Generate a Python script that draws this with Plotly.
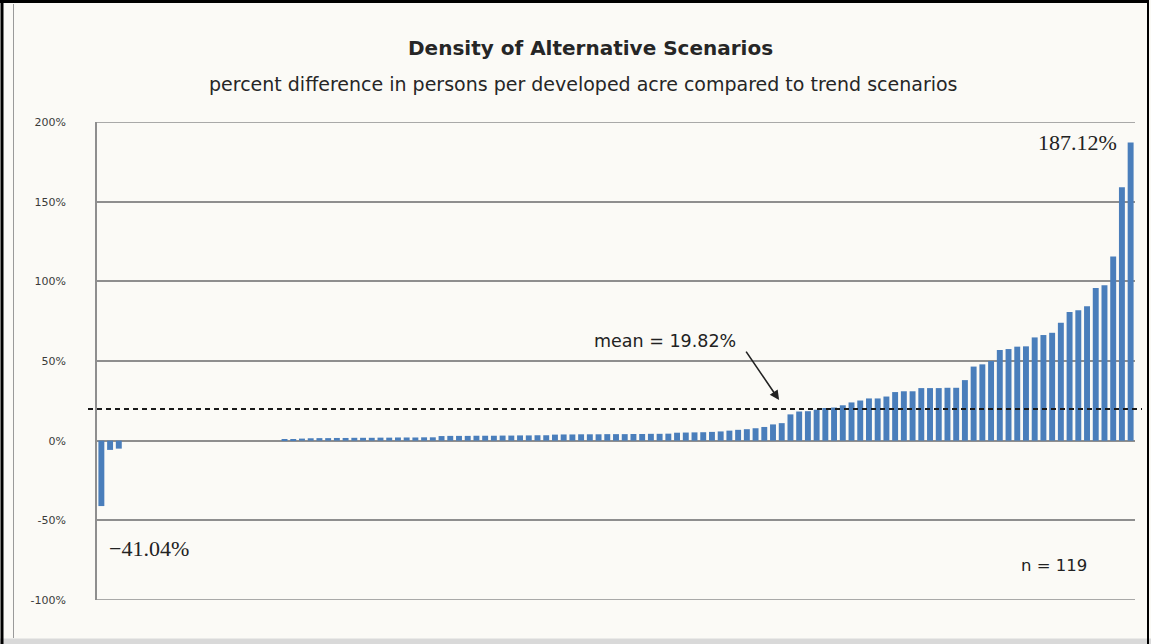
import plotly.graph_objects as go

# ---------------- data ----------------
values = [
    -41.04, -5.8, -5.0,
    0, 0, 0, 0, 0, 0, 0, 0, 0, 0, 0, 0, 0, 0, 0, 0, 0, 0,
    0.6, 1.0, 1.3, 1.5, 1.6, 1.6, 1.7, 1.7, 1.8, 1.8, 1.8, 1.9, 1.9, 2.0, 2.0, 2.0, 2.1, 2.1,
    2.9, 3.0, 3.0, 3.0, 3.1, 3.1, 3.1, 3.2, 3.2, 3.3, 3.3, 3.4, 3.4,
    3.8, 3.9, 3.9, 4.0, 4.0, 4.0, 4.1, 4.1, 4.1, 4.2, 4.2, 4.3, 4.3, 4.4,
    5.0, 5.1, 5.2, 5.3, 5.5, 5.8,
    6.3, 6.8, 7.2, 7.8, 8.6, 10.2, 11.0,
    16.5, 18.3, 18.5, 19.4, 20.5, 20.8, 22.2, 24.0, 25.2, 26.5, 26.5, 27.7,
    30.5, 31.0, 31.0, 33.0, 33.0, 33.0, 33.2, 33.2, 38.0,
    46.5, 47.9, 50.0, 56.9, 57.5, 59.0, 59.2, 64.8, 66.3, 67.7, 74.0,
    80.8, 81.9, 84.4, 95.8, 97.5, 115.6, 159.0, 187.12,
]
categories = list(range(1, len(values) + 1))
mean_value = 19.82
tick_vals = [-100, -50, 0, 50, 100, 150, 200]
tick_text = ["-100%", "-50%", "0%", "50%", "100%", "150%", "200%"]
title_text = "Density of Alternative Scenarios"
subtitle_text = "percent difference in persons per developed acre compared to trend scenarios"
max_label = "187.12%"
min_label = "\u221241.04%"
mean_label = "mean = 19.82%"
n_label = "n = 119"

# ---------------- layout geometry ----------------
W, H = 1151, 644
L, R, T, B = 97, 16, 122, 44
PW, PH = W - L - R, H - T - B


def px(x):
    return (x - L) / PW


def py(y):
    return (H - B - y) / PH


BG = "#fbfaf6"
GRID = "#8e8e8e"
BAR = "#4a7ebb"

fig = go.Figure()
fig.add_trace(go.Bar(
    x=categories, y=values,
    marker=dict(color=BAR, line=dict(width=0)),
    width=0.68,
    hoverinfo="y",
))

shapes = [
    # top / bottom gridlines at the range edges
    dict(type="line", xref="paper", yref="y", x0=0, x1=1, y0=tick_vals[-1], y1=tick_vals[-1],
         line=dict(color=GRID, width=1.6), layer="below"),
    dict(type="line", xref="paper", yref="y", x0=0, x1=1, y0=tick_vals[0], y1=tick_vals[0],
         line=dict(color=GRID, width=1.6), layer="below"),
    # mean dashed line (extends slightly beyond plot)
    dict(type="line", xref="paper", yref="y", x0=px(88), x1=px(1142),
         y0=mean_value, y1=mean_value,
         line=dict(color="#1a1a1a", width=2, dash="5px,4px"), layer="above"),
    # bottom grey band
    dict(type="rect", xref="paper", yref="paper", x0=px(0), x1=px(W),
         y0=py(H), y1=py(638.5), fillcolor="#d9d9d9", line=dict(width=0), layer="below"),
    # outer black frame: left, top, right
    dict(type="line", xref="paper", yref="paper", x0=px(2), x1=px(2),
         y0=py(H), y1=py(0), line=dict(color="#000000", width=3), layer="below"),
    dict(type="line", xref="paper", yref="paper", x0=px(0), x1=px(1149),
         y0=py(1.5), y1=py(1.5), line=dict(color="#000000", width=3), layer="below"),
    dict(type="line", xref="paper", yref="paper", x0=px(1148), x1=px(1148),
         y0=py(H), y1=py(0), line=dict(color="#000000", width=2), layer="below"),
    # inner chart-area border (left)
    dict(type="line", xref="paper", yref="paper", x0=px(13.5), x1=px(13.5),
         y0=py(638), y1=py(4), line=dict(color="#9a9a9a", width=1), layer="below"),
]

annotations = [
    dict(xref="paper", yref="paper", x=px(590), y=py(48), text="<b>" + title_text + "</b>",
         showarrow=False, xanchor="center", yanchor="middle",
         font=dict(family="DejaVu Sans", size=20, color="#262626")),
    dict(xref="paper", yref="paper", x=px(583), y=py(84), text=subtitle_text,
         showarrow=False, xanchor="center", yanchor="middle",
         font=dict(family="DejaVu Sans", size=19, color="#262626")),
    dict(x=categories[-1], y=values[-1], text=max_label, showarrow=False,
         xanchor="right", yanchor="middle", xshift=-12,
         font=dict(family="Liberation Serif", size=22, color="#222222")),
    dict(x=categories[0], y=values[0], text=min_label, showarrow=False,
         xanchor="left", yanchor="middle", xshift=6, yshift=-42,
         font=dict(family="Liberation Serif", size=22, color="#222222")),
    # mean arrow
    dict(x=78.7, y=mean_value, yshift=9, text="", showarrow=True,
         ax=-34, ay=-50, arrowhead=2, arrowsize=1.2, arrowwidth=1.6,
         arrowcolor="#222222"),
    dict(x=78.7, y=mean_value, xshift=-41, yshift=68, text=mean_label, showarrow=False,
         xanchor="right", yanchor="middle",
         font=dict(family="DejaVu Sans", size=17.5, color="#222222")),
    dict(xref="paper", yref="y", x=px(1054), y=-100, yshift=35, text=n_label, showarrow=False,
         xanchor="center", yanchor="middle",
         font=dict(family="DejaVu Sans", size=16.5, color="#222222")),
]

fig.update_layout(
    width=W, height=H,
    margin=dict(l=L, r=R, t=T, b=B, pad=0),
    paper_bgcolor=BG, plot_bgcolor=BG,
    showlegend=False,
    bargap=0.3,
    shapes=shapes,
    annotations=annotations,
    xaxis=dict(range=[0.5, len(values) + 0.5], showticklabels=False, showgrid=False,
               zeroline=False, showline=False, ticks=""),
    yaxis=dict(range=[-100, 200], tickvals=tick_vals, ticktext=tick_text,
               showgrid=True, gridcolor=GRID, gridwidth=1.6,
               zeroline=True, zerolinecolor=GRID, zerolinewidth=1.6,
               showline=True, linecolor=GRID, linewidth=1.6,
               ticks="", ticklabelstandoff=27,
               tickfont=dict(family="DejaVu Sans", size=11, color="#3a3a3a")),
)

fig.write_html("out.html", config={"displayModeBar": False},
               post_script="document.body.style.margin='0';")
